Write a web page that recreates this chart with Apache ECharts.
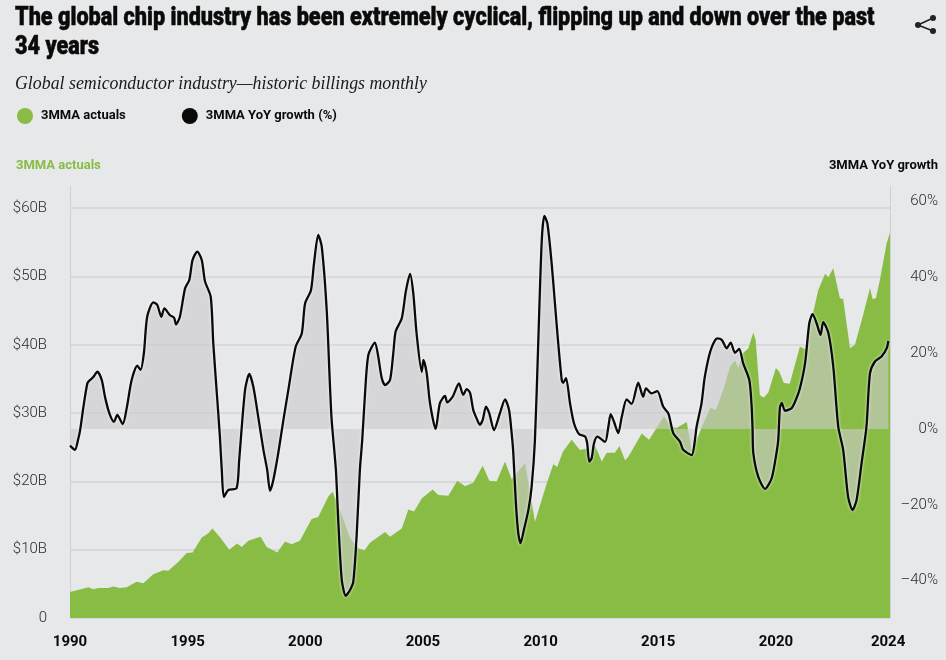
<!DOCTYPE html>
<html><head><meta charset="utf-8">
<script src="https://cdn.jsdelivr.net/npm/echarts@6/dist/echarts.min.js"></script>
<style>html,body{margin:0;padding:0;background:#e7e8ea}#c{width:946px;height:660px}</style>
</head><body><div id="c"></div>
<script>
const titleLine1 = "The global chip industry has been extremely cyclical, flipping up and down over the past";
const titleLine2 = "34 years";
const subtitleText = "Global semiconductor industry—historic billings monthly";
const actualsName = "3MMA actuals";
const growthName = "3MMA YoY growth (%)";
const leftTicks = [0,10,20,30,40,50,60];
const rightTicks = [-40,-20,0,20,40,60];
const xTicks = [1990,1995,2000,2005,2010,2015,2020,2024.77];

const actualsYears = [1990.00,1990.78,1990.99,1991.20,1991.63,1991.84,1992.12,1992.41,1992.83,1993.12,1993.54,1993.97,1994.18,1994.60,1994.96,1995.21,1995.60,1995.88,1996.05,1996.40,1996.77,1997.10,1997.30,1997.58,1998.10,1998.36,1998.81,1999.14,1999.42,1999.77,2000.27,2000.55,2000.98,2001.16,2001.55,2001.90,2002.25,2002.51,2002.75,2003.39,2003.60,2004.10,2004.38,2004.62,2004.95,2005.41,2005.65,2006.08,2006.46,2006.79,2007.14,2007.54,2007.82,2008.13,2008.49,2008.77,2009.34,2009.76,2010.26,2010.54,2010.71,2010.94,2011.32,2011.67,2011.96,2012.06,2012.31,2012.60,2012.81,2013.16,2013.35,2013.59,2013.73,2014.30,2014.61,2015.24,2015.57,2015.78,2016.21,2016.42,2016.63,2016.98,2017.23,2017.45,2017.76,2018.05,2018.26,2018.40,2018.61,2018.83,2019.04,2019.14,2019.32,2019.49,2019.68,2020.00,2020.14,2020.34,2020.59,2021.02,2021.24,2021.59,2021.80,2022.09,2022.23,2022.44,2022.72,2022.86,2023.15,2023.36,2023.71,2024.00,2024.11,2024.25,2024.42,2024.71,2024.85];
const actualsValues = [3.8,4.5,4.2,4.4,4.4,4.6,4.4,4.5,5.3,5.1,6.4,7.0,6.9,8.2,9.5,9.6,11.8,12.4,13.1,11.7,10.0,10.9,10.4,11.3,11.9,10.4,9.6,11.2,10.8,11.3,14.5,14.8,17.8,18.5,15.1,11.7,10.2,9.9,11.0,12.6,11.9,13.1,15.9,15.6,17.5,18.8,18.0,17.9,20.1,19.3,19.8,22.3,20.1,20.0,22.9,20.3,22.7,14.1,19.7,22.5,22.1,24.3,26.1,24.6,24.8,23.1,25.3,22.9,24.2,24.2,25.2,23.1,23.6,27.0,26.1,29.5,28.0,27.8,28.7,24.6,26.1,29.0,30.8,30.4,33.4,36.8,37.7,36.6,38.8,39.5,41.8,40.7,32.6,32.3,33.0,36.6,36.1,34.4,34.3,39.7,39.4,44.8,48.0,50.4,49.9,51.2,46.8,46.7,39.5,40.0,44.4,48.3,46.7,46.8,49.5,54.9,56.4];

const growthYears = [1990.00,1990.21,1990.34,1990.43,1990.57,1990.74,1990.85,1990.99,1991.16,1991.35,1991.49,1991.67,1991.87,1992.01,1992.24,1992.41,1992.62,1992.86,1993.00,1993.14,1993.28,1993.54,1993.71,1993.88,1994.01,1994.25,1994.42,1994.51,1994.67,1994.89,1995.07,1995.21,1995.41,1995.60,1995.74,1995.98,1996.09,1996.26,1996.37,1996.45,1996.54,1996.73,1997.08,1997.19,1997.44,1997.62,1997.79,1998.00,1998.22,1998.38,1998.50,1998.64,1998.85,1999.07,1999.28,1999.59,1999.85,1999.99,2000.24,2000.37,2000.55,2000.70,2000.91,2001.05,2001.12,2001.30,2001.40,2001.55,2001.72,2001.90,2002.04,2002.18,2002.32,2002.42,2002.54,2002.68,2002.96,2003.10,2003.25,2003.39,2003.60,2003.74,2003.84,2004.10,2004.27,2004.45,2004.59,2004.73,2004.95,2005.02,2005.16,2005.30,2005.54,2005.72,2005.94,2006.03,2006.26,2006.53,2006.71,2006.86,2007.00,2007.14,2007.28,2007.42,2007.54,2007.68,2007.82,2008.02,2008.27,2008.49,2008.66,2008.77,2008.84,2008.95,2009.05,2009.15,2009.29,2009.48,2009.62,2009.76,2009.90,2010.05,2010.16,2010.29,2010.47,2010.61,2010.75,2010.90,2010.96,2011.08,2011.25,2011.42,2011.64,2011.89,2011.98,2012.07,2012.17,2012.27,2012.41,2012.74,2012.88,2012.98,2013.12,2013.30,2013.45,2013.66,2013.87,2014.15,2014.36,2014.48,2014.72,2014.96,2015.21,2015.43,2015.53,2015.64,2015.93,2016.06,2016.42,2016.56,2016.63,2016.84,2016.98,2017.23,2017.51,2017.70,2017.91,2018.08,2018.26,2018.44,2018.61,2018.87,2018.97,2019.01,2019.04,2019.25,2019.54,2019.82,2020.00,2020.10,2020.17,2020.25,2020.39,2020.67,2020.85,2021.02,2021.24,2021.42,2021.56,2021.73,2021.90,2022.01,2022.23,2022.44,2022.65,2022.86,2023.07,2023.26,2023.43,2023.64,2023.85,2024.00,2024.21,2024.49,2024.71,2024.78];
const growthValues = [-4.4,-5.5,-2.9,-0.3,5.8,12.1,12.9,13.7,15.1,12.9,8.4,4.2,1.9,3.7,1.3,5.5,12.9,16.7,15.6,20.0,29.6,33.4,32.7,29.6,31.8,30.0,29.4,27.6,29.6,37.1,39.3,44.6,46.8,44.6,38.9,34.9,22.6,7.7,-2.0,-10.8,-17.9,-16.1,-15.6,-8.2,10.3,14.5,11.2,3.2,-5.5,-10.8,-16.3,-13.5,-6.4,2.4,10.3,21.7,25.2,33.1,36.6,43.7,51.2,48.1,31.4,11.2,2.4,-10.8,-24.0,-39.8,-44.0,-42.5,-40.3,-28.4,-10.8,-2.9,9.5,19.5,22.8,19.1,13.4,11.6,12.9,20.0,25.7,29.2,36.2,40.9,35.8,25.2,15.1,18.2,14.7,6.8,0,6.8,8.7,7.0,8.5,12.0,9.0,10.5,9.6,5.0,2.8,1.1,2.4,5.9,4.1,-0.3,4.1,7.8,5.0,-1.1,-6.3,-19.5,-27.4,-30.1,-26.6,-21.4,-15.2,-2.9,22.7,49.8,56.2,54.2,43.7,33.1,22.6,12.9,12.2,13.4,6.8,1.5,-1.4,-2.0,-3.8,-8.6,-7.7,-3.8,-2.0,-3.4,0.6,3.9,1.9,-1.1,3.2,7.8,6.6,12.2,8.5,10.7,9.4,10.0,5.9,4.1,1.6,-1.1,-3.4,-5.5,-6.9,-2.9,0.6,6.8,13.8,20.8,23.9,23.5,21.3,22.8,20.1,21.1,17.3,12.9,5.9,-0.3,-6.3,-12.6,-15.8,-13.0,-7.3,-2.9,5.5,6.9,4.8,5.5,7.7,10.7,17.3,27.9,30.3,27.9,24.8,28.2,25.3,16.4,0.6,-5.5,-17.9,-21.4,-18.7,-9.1,0.6,14.7,17.8,19.1,21.3,23.2];

const GREEN = '#88bc44', BLACK = '#0a0a0a', BG = '#e7e8ea';
const sans = 'Roboto,"Liberation Sans",sans-serif';
const chart = echarts.init(document.getElementById('c'), null, {renderer:'canvas'});

chart.setOption({
  animation:false,
  backgroundColor:BG,
  grid:{left:70,right:56,top:186,bottom:42,containLabel:false},
  legend:{left:17,top:108,padding:0,icon:'circle',itemWidth:16,itemHeight:16,itemGap:56,
    textStyle:{fontFamily:sans,fontWeight:'bold',fontSize:13,color:BLACK,padding:[2,0,0,3]},
    data:[{name:actualsName,itemStyle:{color:GREEN}},{name:growthName,itemStyle:{color:BLACK}}]},
  xAxis:{type:'value',min:1990,max:2024.85,
    axisLine:{show:false},axisTick:{show:false},splitLine:{show:false},
    axisLabel:{customValues:xTicks,margin:17,fontFamily:sans,fontWeight:'bold',fontSize:15,color:BLACK,
      formatter:v=>String(Math.floor(v))}},
  yAxis:[
    {type:'value',min:0,max:63.25,position:'left',
      axisLine:{show:true,lineStyle:{color:'#cfd0d2',width:1}},
      axisTick:{show:false,customValues:leftTicks},
      splitLine:{show:true,lineStyle:{color:'#d3d4d6',width:1.5}},
      axisLabel:{customValues:leftTicks,margin:23,fontFamily:sans,fontWeight:300,fontSize:15,color:'#2b2b2b',padding:[0,0,2,0],
        formatter:v=>v===0?'0':'$'+v+'B'}},
    {type:'value',min:-49.87,max:64.1,position:'right',
      axisLine:{show:true,lineStyle:{color:'#cfd0d2',width:1}},
      axisTick:{show:false,customValues:rightTicks},
      splitLine:{show:false},
      axisLabel:{customValues:rightTicks,margin:48,align:'right',fontFamily:sans,fontWeight:300,fontSize:15,color:'#2b2b2b',padding:[3,0,0,0],
        formatter:v=>(v<0?'–'+(-v):v)+'%'}}
  ],
  series:[
    {name:actualsName,type:'line',yAxisIndex:0,z:2,showSymbol:false,symbol:'none',
      lineStyle:{width:0},itemStyle:{color:GREEN},areaStyle:{color:GREEN,opacity:1,origin:'start'},
      data:actualsYears.map((y,i)=>[y,actualsValues[i]])},
    {name:growthName,type:'line',yAxisIndex:1,z:3,showSymbol:false,symbol:'none',smooth:0.25,
      lineStyle:{color:BLACK,width:2.3,shadowColor:'rgba(255,255,255,0.9)',shadowBlur:3},
      itemStyle:{color:BLACK},
      areaStyle:{color:'rgba(202,203,205,0.61)',opacity:1,origin:0},
      data:growthYears.map((y,i)=>[y,growthValues[i]])}
  ],
  graphic:[
    {type:'text',x:15,y:19,scaleX:0.865,style:{text:titleLine1,fontFamily:sans,fontWeight:900,fontSize:25,fill:BLACK,stroke:BLACK,lineWidth:0.5,textVerticalAlign:'middle'}},
    {type:'text',x:15,y:48,scaleX:0.865,style:{text:titleLine2,fontFamily:sans,fontWeight:900,fontSize:25,fill:BLACK,stroke:BLACK,lineWidth:0.5,textVerticalAlign:'middle'}},
    {type:'text',x:15,y:84,scaleX:0.938,style:{text:subtitleText,fontFamily:'"Liberation Serif",serif',fontStyle:'italic',fontSize:19,fill:'#1a1a1a',textVerticalAlign:'middle'}},
    {type:'text',x:16,y:165.5,style:{text:actualsName,fontFamily:sans,fontWeight:'bold',fontSize:13,fill:GREEN,textVerticalAlign:'middle'}},
    {type:'text',x:938,y:165.5,style:{text:'3MMA YoY growth',fontFamily:sans,fontWeight:'bold',fontSize:13,fill:BLACK,textAlign:'right',textVerticalAlign:'middle'}},
    {type:'group',x:915,y:15,children:[
      {type:'line',shape:{x1:3,y1:10,x2:18,y2:3},style:{stroke:'#222',lineWidth:1.6}},
      {type:'line',shape:{x1:3,y1:10,x2:18,y2:16},style:{stroke:'#222',lineWidth:1.6}},
      {type:'circle',shape:{cx:3,cy:10,r:3},style:{fill:'#222'}},
      {type:'circle',shape:{cx:18,cy:3,r:3},style:{fill:'#222'}},
      {type:'circle',shape:{cx:18,cy:16,r:3},style:{fill:'#222'}}
    ]}
  ]
});
</script></body></html>
